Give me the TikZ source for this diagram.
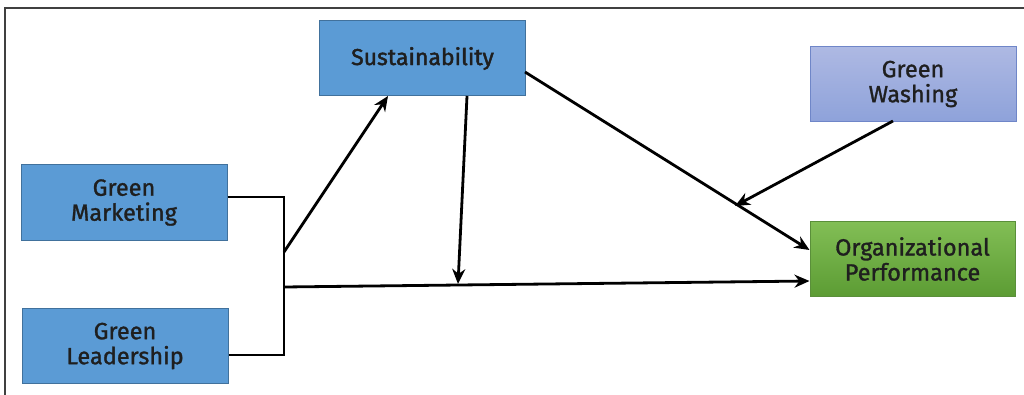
\documentclass[tikz,border=0pt]{standalone}
\usepackage{fontspec}
\setmainfont{Fira Sans}[FakeBold=1.2]
\newfontfamily\susfont{Fira Sans}[FakeBold=1.8]
\usetikzlibrary{arrows.meta}
\definecolor{boxblue}{HTML}{5B9BD5}
\definecolor{boxblueline}{HTML}{41719C}
\definecolor{washtop}{HTML}{AEB9E3}
\definecolor{washbot}{HTML}{8EA2DA}
\definecolor{washline}{HTML}{6F86C8}
\definecolor{greentop}{HTML}{82BE55}
\definecolor{greenbot}{HTML}{5C9C34}
\definecolor{greenline}{HTML}{5A8F3A}
\tikzset{
  box/.style={draw=boxblueline, line width=1pt, fill=boxblue, minimum width=206pt, minimum height=75pt,
    align=center, font=\fontsize{23.5}{25}\selectfont, text=black!88, inner sep=0pt},
  washbox/.style={box, draw=washline, top color=washtop, bottom color=washbot},
  perfbox/.style={box, draw=greenline, top color=greentop, bottom color=greenbot},
  conn/.style={line width=2.8pt, black},
  arr/.style={conn, -{Stealth[length=15pt,width=13pt]}},
  frame/.style={line width=1.2pt, black!75}
}
\begin{document}
\begin{tikzpicture}[x=1pt,y=-1pt]
\useasboundingbox (0,0) rectangle (1024,395);
\draw[frame] (5,400) -- (5,8) -- (1030,8);
\node[box, font=\fontsize{23}{25}\selectfont] (sus) at (422.5,58.5) {\susfont Sustainability};
\node[washbox] (gw) at (913,84) {Green\\Washing};
\node[box] (gm) at (124,202.5) {Green\\Marketing};
\node[box] (gl) at (125,346) {Green\\Leadership};
\node[perfbox, minimum width=205pt, minimum height=74pt] (op) at (912.5,259) {Organizational\\Performance};
\coordinate (jt) at (284,197);
\coordinate (jb) at (284,355);
\coordinate (js) at (284,252);
\coordinate (jh) at (284,287);
\coordinate (mid) at (458,284);
\coordinate (onl) at (735,206);
\draw[line width=1.8pt] (gm.east |- 0,197) -- (jt) -- (jb) -- (gl.east |- 0,355);
\draw[arr] (js) -- (388,96);
\draw[arr] (jh) -- (op.west |- 0,281);
\draw[arr] (467,96) -- (mid);
\draw[arr] (525,72) -- (op.west |- 0,250);
\draw[arr] (gw.south |- 0,121) ++(-20,0) -- (onl);
\end{tikzpicture}
\end{document}
